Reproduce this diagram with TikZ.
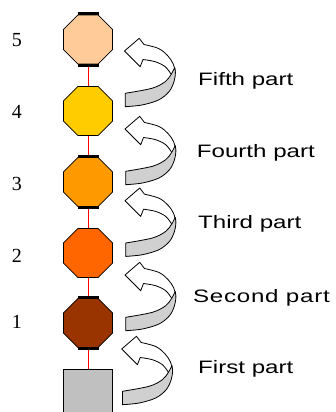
\documentclass[tikz,border=0pt]{standalone}
\usepackage{fontspec}
\usetikzlibrary{shapes.geometric}
\newfontfamily\lblfont[FakeStretch=1.34]{Liberation Sans}
\newfontfamily\lblwidefont[FakeStretch=1.34,LetterSpace=4]{Liberation Sans}
\newfontfamily\numfont{Liberation Serif}
\definecolor{cfive}{RGB}{255,204,153}
\definecolor{cfour}{RGB}{255,204,0}
\definecolor{cthree}{RGB}{255,153,0}
\definecolor{ctwo}{RGB}{255,102,0}
\definecolor{cone}{RGB}{153,51,0}
\definecolor{basegray}{RGB}{192,192,192}
\definecolor{arrgray}{RGB}{208,208,208}
\tikzset{
  oct/.style={draw=black, line width=0.8pt, regular polygon, regular polygon sides=8,
    minimum size=53pt, inner sep=0pt},
  bar/.style={line width=3pt, line cap=butt, black},
  link/.style={red, line width=0.8pt},
  lbl/.style={font=\lblfont\fontsize{18}{20}\selectfont, inner sep=0pt, anchor=base west},
  num/.style={font=\numfont\fontsize{20}{22}\selectfont, inner sep=0pt, anchor=base},
  arrline/.style={draw=black, line width=0.8pt, line join=round},
  uarrow/.pic={
    \draw[arrline, fill=white] (0,0) -- (14.7,-12.7) -- (19.5,-6.5)
      -- plot[smooth, tension=0.6] coordinates {(19.5,-6.5) (34,-2.5) (43,4.5) (48.5,12.5) (50.8,21)}
      -- (46.7,23.3)
      -- plot[smooth, tension=0.55] coordinates {(46.7,23.3) (40.7,15.7) (30.7,10.7) (18.5,8.5)}
      -- (15.7,15.7) -- cycle;
    \draw[arrline, fill=arrgray] (0.7,42.3)
      -- plot[smooth, tension=0.55] coordinates {(0.7,42.3) (27.4,37.3) (40.7,30.7) (46.7,23.3) (50.2,16.5)}
      -- plot[smooth, tension=0.55] coordinates {(50.2,16.5) (50.9,22) (49.5,30.7) (44.5,40.7) (34,49) (17.4,54) (0.7,55.7)}
      -- cycle;
  }
}
\begin{document}
\begin{tikzpicture}[x=1pt,y=-1pt]
\useasboundingbox (0,0) rectangle (335,412);
% octagons
\node[oct, fill=cfive]  (o5) at (88,39.5) {};
\node[oct, fill=cfour]  (o4) at (88,111) {};
\node[oct, fill=cthree] (o3) at (88,182) {};
\node[oct, fill=ctwo]   (o2) at (88,253) {};
\node[oct, fill=cone]   (o1) at (88,323) {};
\node[draw=black, line width=0.8pt, fill=basegray, minimum width=49pt, minimum height=50pt,
      inner sep=0pt, anchor=north] (base) at (88,369) {};
% red links
\draw[link] (o5.south) -- (o4.north);
\draw[link] (o4.south) -- (o3.north);
\draw[link] (o3.south) -- (o2.north);
\draw[link] (o2.south) -- (o1.north);
\draw[link] (o1.south) -- (base.north);
% thick bars
\foreach \o in {o5,o3,o1}{
  \draw[bar] ([xshift=-10.5pt,yshift=0.8pt]\o.north) -- ([xshift=10.5pt,yshift=0.8pt]\o.north);
  \draw[bar] ([xshift=-10.5pt,yshift=-0.8pt]\o.south) -- ([xshift=10.5pt,yshift=-0.8pt]\o.south);
}
% numbers
\node[num] (n5) at (17,47) {5};
\node[num] (n4) at (17,118) {4};
\node[num] (n3) at (17,190) {3};
\node[num] (n2) at (17,262) {2};
\node[num] (n1) at (17,328) {1};
% curved arrows
\pic at (124.5,51) {uarrow};
\pic at (125,129) {uarrow};
\pic at (125,200.7) {uarrow};
\pic at (125,275) {uarrow};
\pic at (121.7,349) {uarrow};
% labels
\node[lbl] (l5) at (198,85) {Fifth part};
\node[lbl] (l4) at (196.7,157) {Fourth part};
\node[lbl] (l3) at (198,228) {Third part};
\node[lbl, font=\lblwidefont\fontsize{18}{20}\selectfont] (l2) at (193,302) {Second part};
\node[lbl] (l1) at (198,373) {First part};
\end{tikzpicture}
\end{document}
